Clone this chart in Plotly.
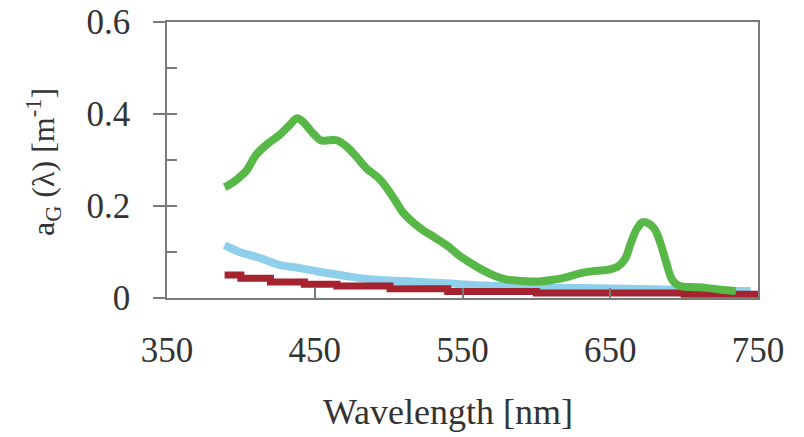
import plotly.graph_objects as go

# Wavelength grids [nm] and absorption values [m^-1]
green_wl = [389, 392, 397, 404, 410, 418, 426, 433, 438, 442, 448, 454, 460, 465, 472, 479, 485, 494,
            502, 510, 517, 523, 531, 540, 548, 556, 564, 572, 580, 590, 602, 612, 620, 630, 640, 648,
            655, 660, 664, 668, 672, 676, 680, 684, 688, 692, 697, 705, 715, 725, 735]
green_a = [0.241, 0.246, 0.257, 0.278, 0.310, 0.335, 0.354, 0.376, 0.391, 0.383, 0.361, 0.343, 0.343,
           0.343, 0.328, 0.304, 0.282, 0.258, 0.224, 0.185, 0.163, 0.148, 0.132, 0.113, 0.092, 0.075,
           0.060, 0.048, 0.040, 0.037, 0.036, 0.040, 0.045, 0.054, 0.059, 0.061, 0.068, 0.085, 0.120,
           0.150, 0.165, 0.162, 0.150, 0.119, 0.076, 0.039, 0.026, 0.024, 0.022, 0.018, 0.015]

blue_wl = [389, 399, 413, 426, 440, 453, 467, 481, 494, 508, 521, 539, 560, 580, 600, 620, 640, 660,
           680, 700, 720, 745]
blue_a = [0.115, 0.100, 0.087, 0.072, 0.065, 0.057, 0.050, 0.043, 0.039, 0.037, 0.035, 0.032, 0.028,
          0.025, 0.023, 0.022, 0.021, 0.020, 0.019, 0.018, 0.016, 0.015]

red_wl = [389, 400, 420, 443, 465, 501, 540, 600, 700, 752]
red_a = [0.050, 0.043, 0.035, 0.030, 0.026, 0.020, 0.014, 0.011, 0.008, 0.008]

x_ticks = [350, 450, 550, 650, 750]
y_ticks = [0, 0.2, 0.4, 0.6]

FONT = "Liberation Serif, Times New Roman, serif"
TXT = "#333333"
FRAME = "#7a7a7a"

fig = go.Figure()
fig.add_trace(go.Scatter(x=blue_wl, y=blue_a, mode="lines",
                         line=dict(color="#8ecfec", width=8, shape="spline"), showlegend=False))
fig.add_trace(go.Scatter(x=red_wl, y=red_a, mode="lines",
                         line=dict(color="#a4232e", width=7, shape="hv"), showlegend=False))
fig.add_trace(go.Scatter(x=green_wl, y=green_a, mode="lines",
                         line=dict(color="#58b847", width=8, shape="spline"), showlegend=False))
# invisible trace to activate the inside-tick y axis
fig.add_trace(go.Scatter(x=[350], y=[0], yaxis="y2", mode="markers",
                         marker=dict(opacity=0), showlegend=False, hoverinfo="skip"))

fig.update_layout(
    width=804, height=437,
    margin=dict(l=167, r=46, t=22, b=139, autoexpand=False),
    paper_bgcolor="white", plot_bgcolor="white",
    font=dict(family=FONT, color=TXT, size=34),
    xaxis=dict(range=[350, 750], tickvals=x_ticks, ticktext=[str(v) for v in x_ticks],
               ticks="inside", ticklen=10, tickcolor=FRAME, tickwidth=1.5,
               showline=True, linecolor=FRAME, linewidth=1.5, mirror=True,
               showgrid=False, zeroline=False, ticklabelstandoff=20, automargin=False,
               tickfont=dict(size=35, family=FONT, color=TXT)),
    yaxis=dict(range=[0, 0.6], tickvals=y_ticks, ticktext=["0", "0.2", "0.4", "0.6"],
               ticks="outside", ticklen=12, tickcolor=FRAME, tickwidth=1.5,
               showline=True, linecolor=FRAME, linewidth=1.5, mirror=True,
               showgrid=False, zeroline=False, ticklabelstandoff=16, automargin=False,
               tickfont=dict(size=35, family=FONT, color=TXT)),
    yaxis2=dict(range=[0, 0.6], overlaying="y", side="left", dtick=0.1, tick0=0,
                ticks="inside", ticklen=10, tickcolor=FRAME, tickwidth=1.5, automargin=False,
                showticklabels=False, showline=False, showgrid=False, zeroline=False),
    annotations=[
        dict(text="Wavelength [nm]", xref="paper", yref="paper", x=(448 - 167) / 591,
             y=-(412 - 298) / 276, xanchor="center", yanchor="middle", showarrow=False,
             font=dict(size=36, family=FONT, color=TXT)),
        dict(text="a<sub>G</sub> (λ) [m<sup>-1</sup>]", xref="paper", yref="paper",
             x=-(167 - 43) / 591, y=(298 - 162) / 276, xanchor="center", yanchor="middle",
             textangle=-90, showarrow=False, font=dict(size=32, family=FONT, color=TXT)),
    ],
)

# remove the browser's default 8px page margin so the figure sits at the window origin
fig.write_html("out.html", config={"displayModeBar": False},
               post_script="document.body.style.margin='0';")
